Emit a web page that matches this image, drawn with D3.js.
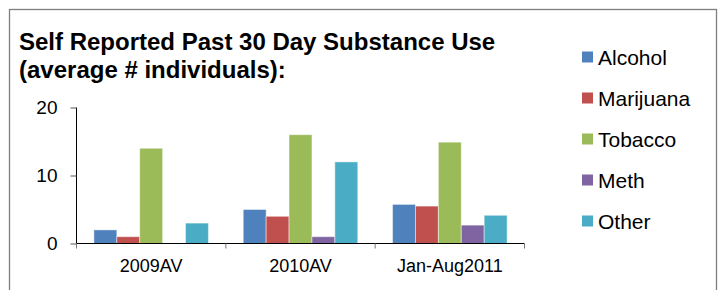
<!DOCTYPE html>
<html>
<head>
<meta charset="utf-8">
<script src="https://cdn.jsdelivr.net/npm/d3@7"></script>
<style>
  body { margin: 0; background: #fff; }
  svg { display: block; font-family: "Liberation Sans", Arial, sans-serif; }
</style>
</head>
<body>
<svg id="chart" width="722" height="290"></svg>
<script>
"use strict";

// data
var categories = ["2009AV", "2010AV", "Jan-Aug2011"];
var series = ["Alcohol", "Marijuana", "Tobacco", "Meth", "Other"];
var alcohol   = [2, 5, 5.75];
var marijuana = [1, 4, 5.5];
var tobacco   = [14, 16, 14.9];
var meth      = [0, 1, 2.7];
var other     = [3, 12, 4.15];
var yTicks = [0, 10, 20];

var values = [alcohol, marijuana, tobacco, meth, other];
var colors = ["#4F81BD", "#C0504D", "#9BBB59", "#8064A2", "#4BACC6"];

var svg = d3.select("#chart");

// outer frame
svg.append("rect")
    .attr("x", 9.5).attr("y", 9.5)
    .attr("width", 707).attr("height", 300)
    .attr("fill", "none")
    .attr("stroke", "#7f7f7f")
    .attr("stroke-width", 1.3);

// title
var title = svg.append("text")
    .attr("font-weight", "bold")
    .attr("font-size", 24)
    .attr("fill", "#000");
title.append("tspan").attr("x", 19).attr("y", 50).text("Self Reported Past 30 Day Substance Use");
title.append("tspan").attr("x", 19).attr("y", 77.5).text("(average # individuals):");

// scales
var x0 = d3.scaleBand()
    .domain(categories)
    .range([76.5, 524.5]);

var x1 = d3.scaleBand()
    .domain(series)
    .range([0, x0.bandwidth()])
    .paddingOuter(0.76);

var y = d3.scaleLinear()
    .domain([0, 20])
    .range([243.5, 107.5]);

var color = d3.scaleOrdinal(series, colors);

// bars
var group = svg.append("g")
  .selectAll("g")
  .data(categories)
  .join("g")
    .attr("transform", d => `translate(${x0(d)},0)`);

group.selectAll("rect")
  .data((c, i) => series.map((s, j) => ({series: s, value: values[j][i]})))
  .join("rect")
    .filter(d => d.value > 0)
    .attr("x", d => x1(d.series))
    .attr("y", d => y(d.value))
    .attr("width", x1.bandwidth())
    .attr("height", d => y(0) - y(d.value))
    .attr("fill", d => color(d.series))
    .attr("stroke", "#fff")
    .attr("stroke-opacity", 0.45)
    .attr("stroke-width", 1);

// y axis
var yAxis = svg.append("g")
    .attr("transform", "translate(76.5,0)")
    .call(d3.axisLeft(y).tickValues(yTicks).tickSize(6).tickPadding(13).tickFormat(d3.format("d")));
yAxis.select(".domain").attr("stroke", "#000").attr("d", `M0,${y(20)}V${y(0)}`);
yAxis.selectAll(".tick line").attr("stroke", "#555");
yAxis.selectAll(".tick text")
    .attr("font-size", 19)
    .attr("font-family", "Liberation Sans, Arial, sans-serif")
    .attr("fill", "#000");

// x axis
var xAxis = svg.append("g")
    .attr("transform", `translate(0,${y(0)})`)
    .call(d3.axisBottom(x0).tickSize(0).tickPadding(0));
xAxis.select(".domain").attr("stroke", "#000").attr("d", `M${x0.range()[0]},0H${x0.range()[1]}`);
xAxis.selectAll(".tick text")
    .attr("font-size", 18)
    .attr("font-family", "Liberation Sans, Arial, sans-serif")
    .attr("fill", "#000")
    .attr("dy", null)
    .attr("y", 28.5);

// category boundary ticks
svg.append("g")
  .selectAll("line")
  .data(categories.concat([null]))
  .join("line")
    .attr("x1", (d, i) => x0.range()[0] + i * x0.step())
    .attr("x2", (d, i) => x0.range()[0] + i * x0.step())
    .attr("y1", y(0))
    .attr("y2", y(0) + 5)
    .attr("stroke", "#777");

// legend
var legend = svg.append("g")
  .selectAll("g")
  .data(series)
  .join("g")
    .attr("transform", (d, i) => `translate(582,${51.5 + i * 41})`);

legend.append("rect")
    .attr("width", 11)
    .attr("height", 11)
    .attr("fill", d => color(d));

legend.append("text")
    .attr("x", 16)
    .attr("y", 13)
    .attr("font-size", 21)
    .attr("fill", "#000")
    .text(d => d);
</script>
</body>
</html>
